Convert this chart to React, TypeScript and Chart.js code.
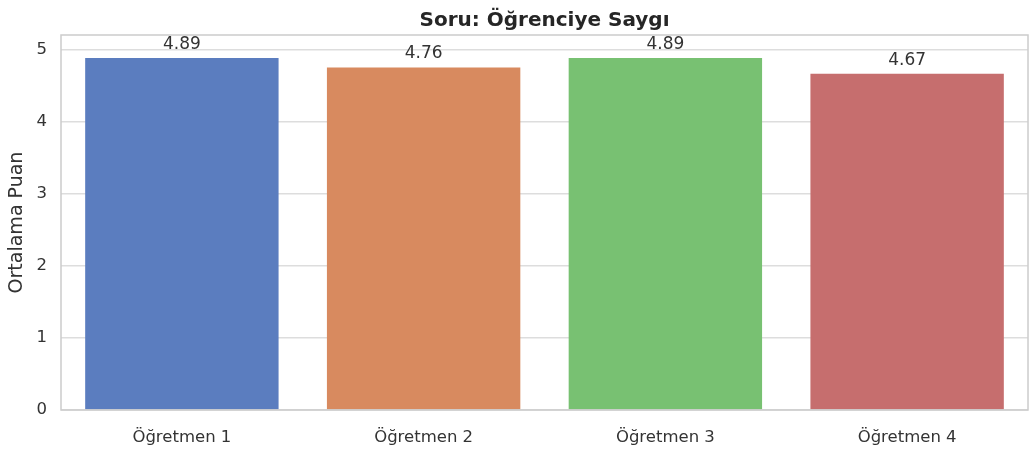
import React, { useEffect, useRef } from "react";
import { Chart, registerables } from "chart.js";

Chart.register(...registerables);

const categories = ["Öğretmen 1", "Öğretmen 2", "Öğretmen 3", "Öğretmen 4"];
const values = [4.89, 4.76, 4.89, 4.67];
const valueLabels = ["4.89", "4.76", "4.89", "4.67"];
const barColors = ["#5b7dbf", "#d88a5f", "#78c172", "#c66e6e"];
const yTickValues = [0, 1, 2, 3, 4, 5];
const titleText = "Soru: Öğrenciye Saygı";
const yAxisTitle = "Ortalama Puan";
const yMax = 5.21;

const FONT = "'DejaVu Sans', sans-serif";

const framePlugin = {
  id: "frameAndLabels",
  afterDraw(chart: any) {
    const { ctx, chartArea } = chart;
    ctx.save();
    ctx.strokeStyle = "#cccccc";
    ctx.lineWidth = 1.5;
    ctx.strokeRect(chartArea.left, chartArea.top, chartArea.right - chartArea.left, chartArea.bottom - chartArea.top);
    // title
    ctx.fillStyle = "#262626";
    ctx.font = `bold 20px ${FONT}`;
    ctx.textAlign = "center";
    ctx.textBaseline = "alphabetic";
    ctx.fillText(titleText, (chartArea.left + chartArea.right) / 2, 26);
    // value labels
    const meta = chart.getDatasetMeta(0);
    ctx.font = `17px ${FONT}`;
    ctx.fillStyle = "#333333";
    meta.data.forEach((bar: any, i: number) => {
      ctx.fillText(valueLabels[i], bar.x, bar.y - 9);
    });
    ctx.restore();
  },
};

export default function App() {
  const ref = useRef<HTMLCanvasElement>(null);
  useEffect(() => {
    if (!ref.current) return;
    const chart = new Chart(ref.current, {
      type: "bar",
      data: {
        labels: categories,
        datasets: [
          {
            data: values,
            backgroundColor: barColors,
            borderWidth: 0,
            barPercentage: 0.8,
            categoryPercentage: 1,
          },
        ],
      },
      options: {
        animation: false,
        responsive: false,
        maintainAspectRatio: false,
        layout: { padding: { top: 35, right: 2, left: 0, bottom: 0 } },
        plugins: { legend: { display: false }, tooltip: { enabled: false }, title: { display: false } },
        scales: {
          x: {
            grid: { display: false },
            border: { display: false },
            ticks: { color: "#333333", font: { family: FONT, size: 16.5 }, padding: 10 },
            afterFit(scale: any) {
              scale.height = 43;
            },
          },
          y: {
            min: 0,
            max: yMax,
            afterBuildTicks(scale: any) {
              scale.ticks = yTickValues.map((v) => ({ value: v }));
            },
            grid: { color: "#dddddd", lineWidth: 1.5, drawTicks: false },
            border: { display: false },
            ticks: { color: "#333333", font: { family: FONT, size: 16.5 }, padding: 14 },
            title: {
              display: true,
              text: yAxisTitle,
              color: "#333333",
              font: { family: FONT, size: 19 },
              padding: { top: 6, bottom: 0 },
            },
            afterFit(scale: any) {
              scale.width = 61;
            },
          },
        },
      },
      plugins: [framePlugin],
    });
    return () => chart.destroy();
  }, []);
  return (
    <div style={{ position: "fixed", left: 0, top: 0, width: 1030, height: 453, background: "#ffffff" }}>
      <canvas ref={ref} width={1030} height={453} style={{ width: 1030, height: 453 }} />
    </div>
  );
}
